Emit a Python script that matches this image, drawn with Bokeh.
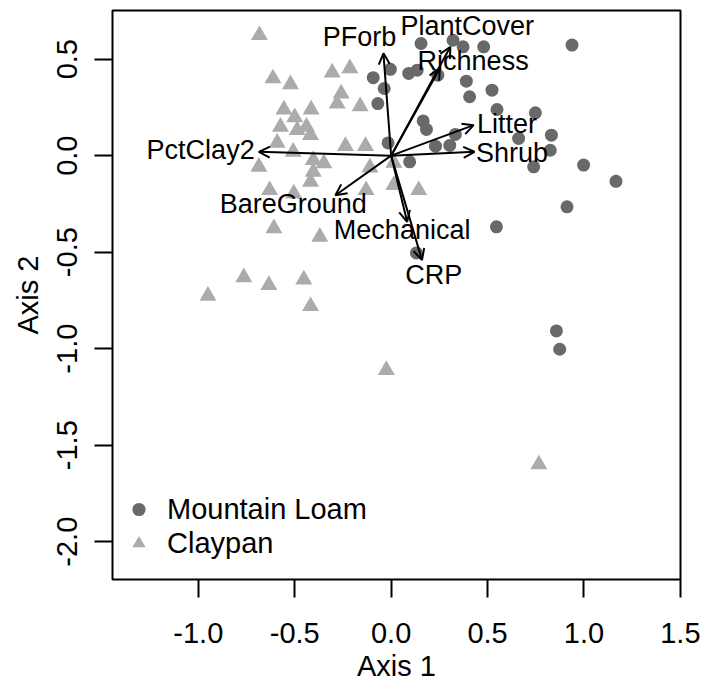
from bokeh.plotting import figure
from bokeh.models import (Range1d, FixedTicker, PrintfTickFormatter, Arrow, OpenHead,
                          ColumnDataSource, Legend, LegendItem)
from bokeh.core.properties import value
from bokeh.embed import file_html
from bokeh.resources import INLINE

# Mountain Loam sites (circles)
loam_x = [-0.093, -0.036, -0.069, -0.016, 0.155, 0.321, 0.373, 0.480, 0.938, -0.004,
          0.091, 0.135, 0.242, 0.390, 0.523, 0.407, 0.549, 0.748, 0.166, 0.183,
          0.333, 0.661, 0.831, 0.230, 0.304, 0.825, 0.096, 0.739, 0.998, 1.166,
          0.912, 0.546, 0.131, 0.857, 0.874]
loam_y = [0.404, 0.348, 0.270, 0.066, 0.581, 0.598, 0.564, 0.564, 0.573, 0.447,
          0.426, 0.443, 0.417, 0.386, 0.339, 0.305, 0.239, 0.222, 0.180, 0.136,
          0.110, 0.089, 0.106, 0.049, 0.053, 0.028, -0.032, -0.058, -0.049, -0.133,
          -0.265, -0.369, -0.504, -0.908, -1.003]

# Claypan sites (triangles)
clay_x = [-0.683, -0.613, -0.522, -0.306, -0.214, -0.259, -0.280, -0.161, -0.556, -0.500,
          -0.415, -0.574, -0.487, -0.439, -0.418, -0.591, -0.508, -0.237, -0.133, -0.404,
          -0.349, -0.686, -0.404, -0.110, -0.418, -0.630, -0.505, 0.014, -0.130, 0.014,
          0.143, -0.608, -0.370, -0.764, -0.634, -0.453, -0.418, -0.950, -0.025, 0.766]
clay_y = [0.624, 0.400, 0.370, 0.430, 0.452, 0.322, 0.270, 0.256, 0.239, 0.198,
          0.239, 0.149, 0.132, 0.149, 0.106, 0.066, 0.020, 0.049, 0.049, -0.023,
          -0.040, -0.058, -0.084, -0.062, -0.136, -0.179, -0.196, -0.037, -0.179, -0.153,
          -0.179, -0.377, -0.421, -0.631, -0.671, -0.642, -0.780, -0.726, -1.111, -1.600]

# Fitted environmental vectors
vec_names = ["PForb", "PlantCover", "Richness", "Litter", "Shrub",
             "PctClay2", "BareGround", "Mechanical", "CRP"]
vec_x = [-0.040, 0.307, 0.252, 0.428, 0.432, -0.686, -0.289, 0.083, 0.160]
vec_y = [0.530, 0.564, 0.452, 0.158, 0.020, 0.020, -0.205, -0.343, -0.541]
lab_x = [-0.164, 0.395, 0.425, 0.601, 0.627, -0.988, -0.508, 0.057, 0.221]
lab_y = [0.616, 0.671, 0.491, 0.163, 0.015, 0.028, -0.251, -0.386, -0.619]

x_ticks = [-1.0, -0.5, 0.0, 0.5, 1.0, 1.5]
y_ticks = [-2.0, -1.5, -1.0, -0.5, 0.0, 0.5]

FONT = "Liberation Sans"

p = figure(width=717, height=686, output_backend="svg", toolbar_location=None,
           x_range=Range1d(-1.445, 1.5005), y_range=Range1d(-2.196, 0.752),
           min_border_left=112, min_border_right=37, min_border_top=10, min_border_bottom=107)
p.grid.visible = False
p.outline_line_color = "black"
p.outline_line_width = 2
p.background_fill_color = "white"
p.border_fill_color = "white"

for ax in (p.xaxis[0], p.yaxis[0]):
    ax.axis_line_color = None
    ax.major_tick_out = 18
    ax.major_tick_in = 0
    ax.major_tick_line_width = 2
    ax.major_tick_line_color = "black"
    ax.minor_tick_line_color = None
    ax.formatter = PrintfTickFormatter(format="%.1f")
    ax.major_label_text_font = FONT
    ax.major_label_text_font_size = "29px"
    ax.major_label_text_color = "black"
    ax.axis_label_text_font = FONT
    ax.axis_label_text_font_size = "29px"
    ax.axis_label_text_font_style = "normal"
    ax.axis_label_text_color = "black"

p.xaxis[0].ticker = FixedTicker(ticks=x_ticks)
p.yaxis[0].ticker = FixedTicker(ticks=y_ticks)
p.xaxis[0].axis_label = "Axis 1"
p.yaxis[0].axis_label = "Axis 2"
p.xaxis[0].major_label_standoff = 25
p.xaxis[0].axis_label_standoff = 4
p.yaxis[0].major_label_standoff = 17
p.yaxis[0].axis_label_standoff = 11
p.yaxis[0].major_label_orientation = "vertical"

r_loam = p.scatter(loam_x, loam_y, marker="circle", size=13, fill_color="#696969",
                   line_color=None)
r_clay = p.scatter(clay_x, clay_y, marker="triangle", size=17, fill_color="#ababab",
                   line_color=None)

src = ColumnDataSource(dict(x0=[0.0] * len(vec_x), y0=[0.0] * len(vec_y),
                            x1=vec_x, y1=vec_y))
p.add_layout(Arrow(end=OpenHead(size=11, line_width=2, line_color="black"),
                   x_start="x0", y_start="y0", x_end="x1", y_end="y1",
                   line_width=2, line_color="black", source=src))

p.text(x=lab_x, y=lab_y, text=vec_names, text_align="center", text_baseline="middle",
       text_font=value(FONT), text_font_size="27px", text_color="black")

legend = Legend(items=[LegendItem(label="Mountain Loam", renderers=[r_loam]),
                       LegendItem(label="Claypan", renderers=[r_clay])],
                location=(10, 19), border_line_color=None, background_fill_alpha=0,
                padding=0, margin=0, spacing=0, glyph_width=33, glyph_height=34,
                label_height=34, label_standoff=12, label_text_font=FONT,
                label_text_color="black",
                label_text_font_size="29px", label_text_baseline="middle")
p.add_layout(legend)

open("out.html", "w").write(file_html(p, INLINE))
